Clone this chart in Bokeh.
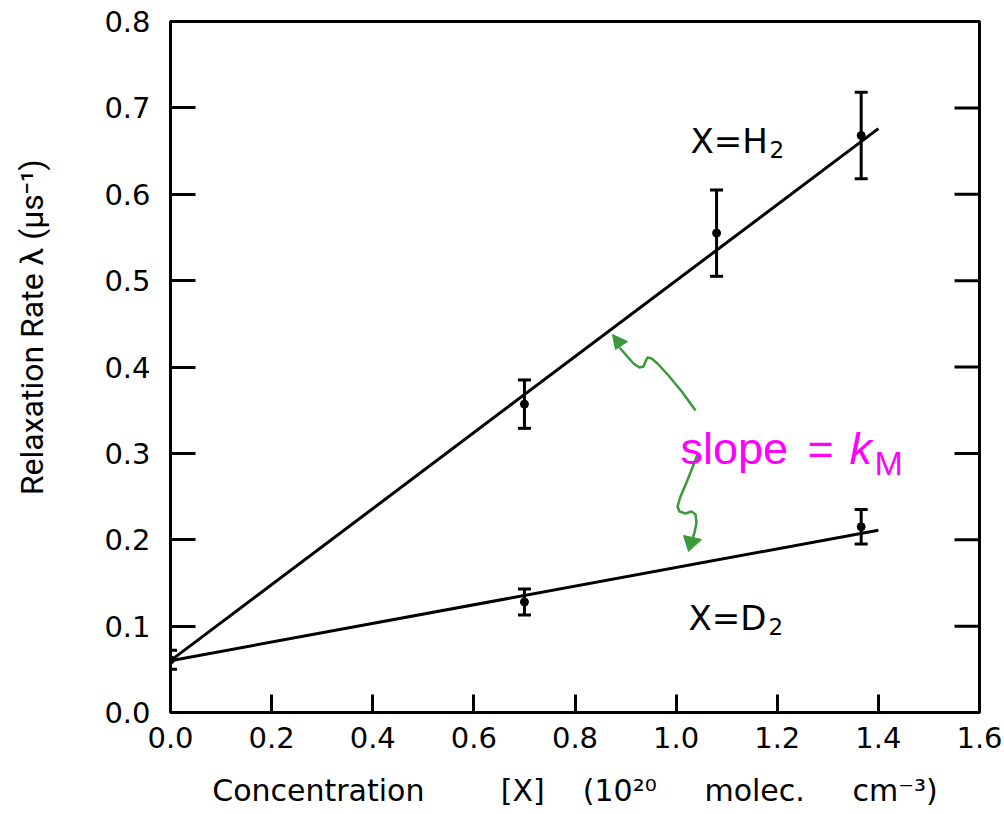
import math
from bokeh.plotting import figure
from bokeh.models import (Range1d, FixedTicker, PrintfTickFormatter,
                          Whisker, ColumnDataSource, TeeHead, Label)
from bokeh.embed import file_html
from bokeh.resources import INLINE

# Measured relaxation rates (μs^-1) against gas concentration (10^20 molec. cm^-3)
h2_conc = [0.0, 0.70, 1.08, 1.366]
h2_rate = [0.061, 0.357, 0.555, 0.668]
h2_err = [0.011, 0.028, 0.050, 0.050]

d2_conc = [0.70, 1.366]
d2_rate = [0.128, 0.215]
d2_err = [0.015, 0.020]

# Linear fits: common intercept, slope = k_M
fit_conc = [0.0, 1.40]
h2_fit = [0.060, 0.676]
d2_fit = [0.060, 0.211]

x_ticks = [0.0, 0.2, 0.4, 0.6, 0.8, 1.0, 1.2, 1.4, 1.6]
y_ticks = [0.0, 0.1, 0.2, 0.3, 0.4, 0.5, 0.6, 0.7, 0.8]

W, H = 1004, 814
L, R, T, B = 170, 25, 21, 102
FW, FH = W - L - R, H - T - B


def dx(xp):
    """horizontal canvas pixel -> data x"""
    return (xp - L) / FW * 1.6


def dy(yp):
    """vertical canvas pixel -> data y"""
    return (H - B - yp) / FH * 0.8


def spaced(*parts):
    """join words with runs of non-breaking spaces (kept by the SVG text)"""
    out = ""
    for item in parts:
        out += item if isinstance(item, str) else "\u00a0" * item
    return out


p = figure(width=W, height=H, output_backend="svg", toolbar_location=None,
           x_range=Range1d(0, 1.6), y_range=Range1d(0, 0.8),
           min_border_left=L, min_border_right=R, min_border_top=T,
           min_border_bottom=B, background_fill_color="white",
           border_fill_color="white")
p.grid.visible = False
p.outline_line_color = "black"
p.outline_line_width = 3

tick_font = "DejaVu Sans"

xa = p.xaxis[0]
xa.ticker = FixedTicker(ticks=x_ticks)
xa.formatter = PrintfTickFormatter(format="%.1f")
xa.major_tick_in = 18
xa.major_tick_out = 0
xa.minor_tick_line_color = None
xa.major_tick_line_width = 3
xa.axis_line_width = 3
xa.major_label_text_font = tick_font
xa.major_label_text_font_size = "29px"
xa.major_label_text_color = "black"
xa.major_label_standoff = 14
xa.axis_label = spaced("Concentration", 8, "[X]", 4, "(10²⁰", 5, "molec.", 5, "cm⁻³)")
xa.axis_label_text_font = tick_font
xa.axis_label_text_font_size = "30px"
xa.axis_label_text_font_style = "normal"
xa.axis_label_text_color = "black"
xa.axis_label_standoff = 22

ya = p.yaxis[0]
ya.ticker = FixedTicker(ticks=y_ticks)
ya.formatter = PrintfTickFormatter(format="%.1f")
ya.major_tick_in = 25
ya.major_tick_out = 0
ya.minor_tick_line_color = None
ya.major_tick_line_width = 3
ya.axis_line_width = 3
ya.major_label_text_font = tick_font
ya.major_label_text_font_size = "29px"
ya.major_label_text_color = "black"
ya.major_label_standoff = 20
ya.axis_label = spaced(10, "Relaxation Rate λ (μs⁻¹)")
ya.axis_label_text_font = "Roboto"
ya.axis_label_text_font_size = "32px"
ya.axis_label_text_font_style = "normal"
ya.axis_label_text_color = "black"
ya.axis_label_standoff = 50

# inward ticks on the right edge of the frame
p.ray(x=[1.6] * len(y_ticks[1:-1]), y=y_ticks[1:-1], length=25,
      length_units="screen", angle=math.pi, line_color="black", line_width=3)

# fitted lines
p.line(fit_conc, h2_fit, line_color="black", line_width=3)
p.line(fit_conc, d2_fit, line_color="black", line_width=3)

# data with error bars
for xs, ys, es in ((h2_conc, h2_rate, h2_err), (d2_conc, d2_rate, d2_err)):
    src = ColumnDataSource(dict(x=xs, y=ys,
                                upper=[a + b for a, b in zip(ys, es)],
                                lower=[a - b for a, b in zip(ys, es)]))
    p.add_layout(Whisker(base="x", upper="upper", lower="lower", source=src,
                         line_color="black", line_width=3,
                         upper_head=TeeHead(size=13, line_width=3, line_color="black"),
                         lower_head=TeeHead(size=13, line_width=3, line_color="black")))
    p.scatter("x", "y", source=src, size=8, color="black")

# series labels
lab_font = "DejaVu Sans"
for txt, xp, yp in (("X=H", 690, 140), ("X=D", 688, 617)):
    p.add_layout(Label(x=dx(xp), y=dy(yp), text=txt, text_font=lab_font,
                       text_font_size="34px", text_baseline="alphabetic",
                       text_color="black"))
for xp, yp in ((769, 149), (768, 626)):
    p.add_layout(Label(x=dx(xp), y=dy(yp), text="2", text_font=lab_font,
                       text_font_size="23px", text_baseline="alphabetic",
                       text_color="black"))

# slope annotation
mag = "#ff00ff"
p.add_layout(Label(x=dx(680), y=dy(448), text="slope", text_font="Liberation Sans",
                   text_font_size="45px", text_baseline="alphabetic", text_color=mag))
p.add_layout(Label(x=dx(807), y=dy(448), text="=", text_font="Liberation Sans",
                   text_font_size="45px", text_baseline="alphabetic", text_color=mag))
p.add_layout(Label(x=dx(849), y=dy(448), text="k", text_font="Liberation Sans",
                   text_font_size="45px", text_font_style="italic",
                   text_baseline="alphabetic", text_color=mag))
p.add_layout(Label(x=dx(874), y=dy(462), text="M", text_font="Liberation Sans",
                   text_font_size="34px", text_baseline="alphabetic", text_color=mag))

# green wavy arrows pointing at the two fits
green = "#3a9a3a"
arrow1 = [(695, 410), (682, 392), (668, 375), (657, 363), (651, 358), (647, 357),
          (645, 361), (643, 366), (639, 367), (633, 363), (626, 355), (619, 347)]
arrow2 = [(697, 454), (692, 467), (686, 482), (680, 496), (677, 506), (679, 511),
          (685, 513), (691, 511), (695, 514), (696, 522), (694, 532), (692, 538)]
for pts in (arrow1, arrow2):
    p.line([dx(a) for a, _ in pts], [dy(b) for _, b in pts],
           line_color=green, line_width=2.5, line_join="round")
heads = [[(612, 334), (615, 349), (627, 341)], [(688, 551), (683, 535), (701, 539)]]
p.patches([[dx(a) for a, _ in h] for h in heads],
          [[dy(b) for _, b in h] for h in heads],
          fill_color=green, line_color=green, line_width=1)

open("out.html", "w").write(file_html(p, INLINE))
